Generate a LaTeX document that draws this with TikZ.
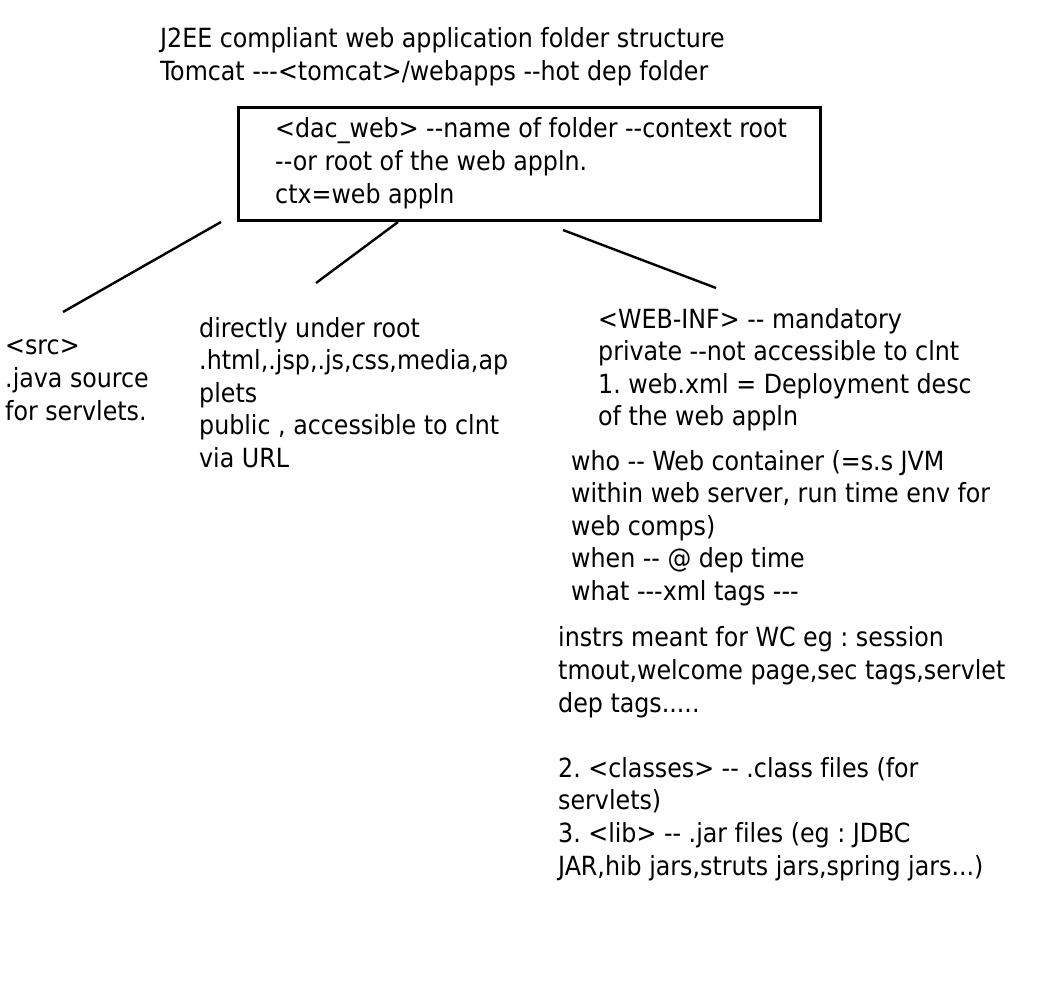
\documentclass[tikz,border=0pt]{standalone}
\usepackage{fontspec}
\setmainfont{DejaVu Sans Condensed}[Ligatures={TeXOff,CommonOff}]
\frenchspacing
\begin{document}
\begin{tikzpicture}[x=1pt,y=-1pt,
  txt/.style={anchor=base west,inner sep=0pt,align=left,font=\fontsize{26.4}{32.6}\selectfont},
  conn/.style={line width=2.4pt,line cap=butt}]
\useasboundingbox (0,0) rectangle (1045,996);
\node[txt] (title) at (160,80) {J2EE compliant web application folder structure\\Tomcat ---<tomcat>/webapps --hot dep folder};
\draw[line width=3pt] (238,107) rectangle (820,220);
\node[txt] (root) at (275,203) {<dac\_web> --name of folder --context root\\--or root of the web appln.\\ctx=web appln};
\node[txt] (src) at (5,420) {<src>\\.java source\\for servlets.};
\node[txt] (pub) at (199,467.4) {directly under root\\.html,.jsp,.js,css,media,ap\\plets\\public , accessible to clnt\\via URL};
\node[txt] (webinf) at (598,425.8) {<WEB-INF> -- mandatory\\private --not accessible to clnt\\1. web.xml = Deployment desc\\of the web appln};
\node[txt] (who) at (571,600.4) {who -- Web container (=s.s JVM\\within web server, run time env for\\web comps)\\when -- @ dep time\\what ---xml tags ---};
\node[txt] (instr) at (558,875) {instrs meant for WC eg : session\\tmout,welcome page,sec tags,servlet\\dep tags.....\\[32.6pt]2. <classes> -- .class files (for\\servlets)\\3. <lib> -- .jar files (eg : JDBC\\JAR,hib jars,struts jars,spring jars...)};
\coordinate (a1) at (221,222); \coordinate (a2) at (63,312);
\coordinate (b1) at (398,222); \coordinate (b2) at (316,283);
\coordinate (c1) at (563,230); \coordinate (c2) at (716,288);
\draw[conn] (a1) -- (a2);
\draw[conn] (b1) -- (b2);
\draw[conn] (c1) -- (c2);
\end{tikzpicture}
\end{document}
